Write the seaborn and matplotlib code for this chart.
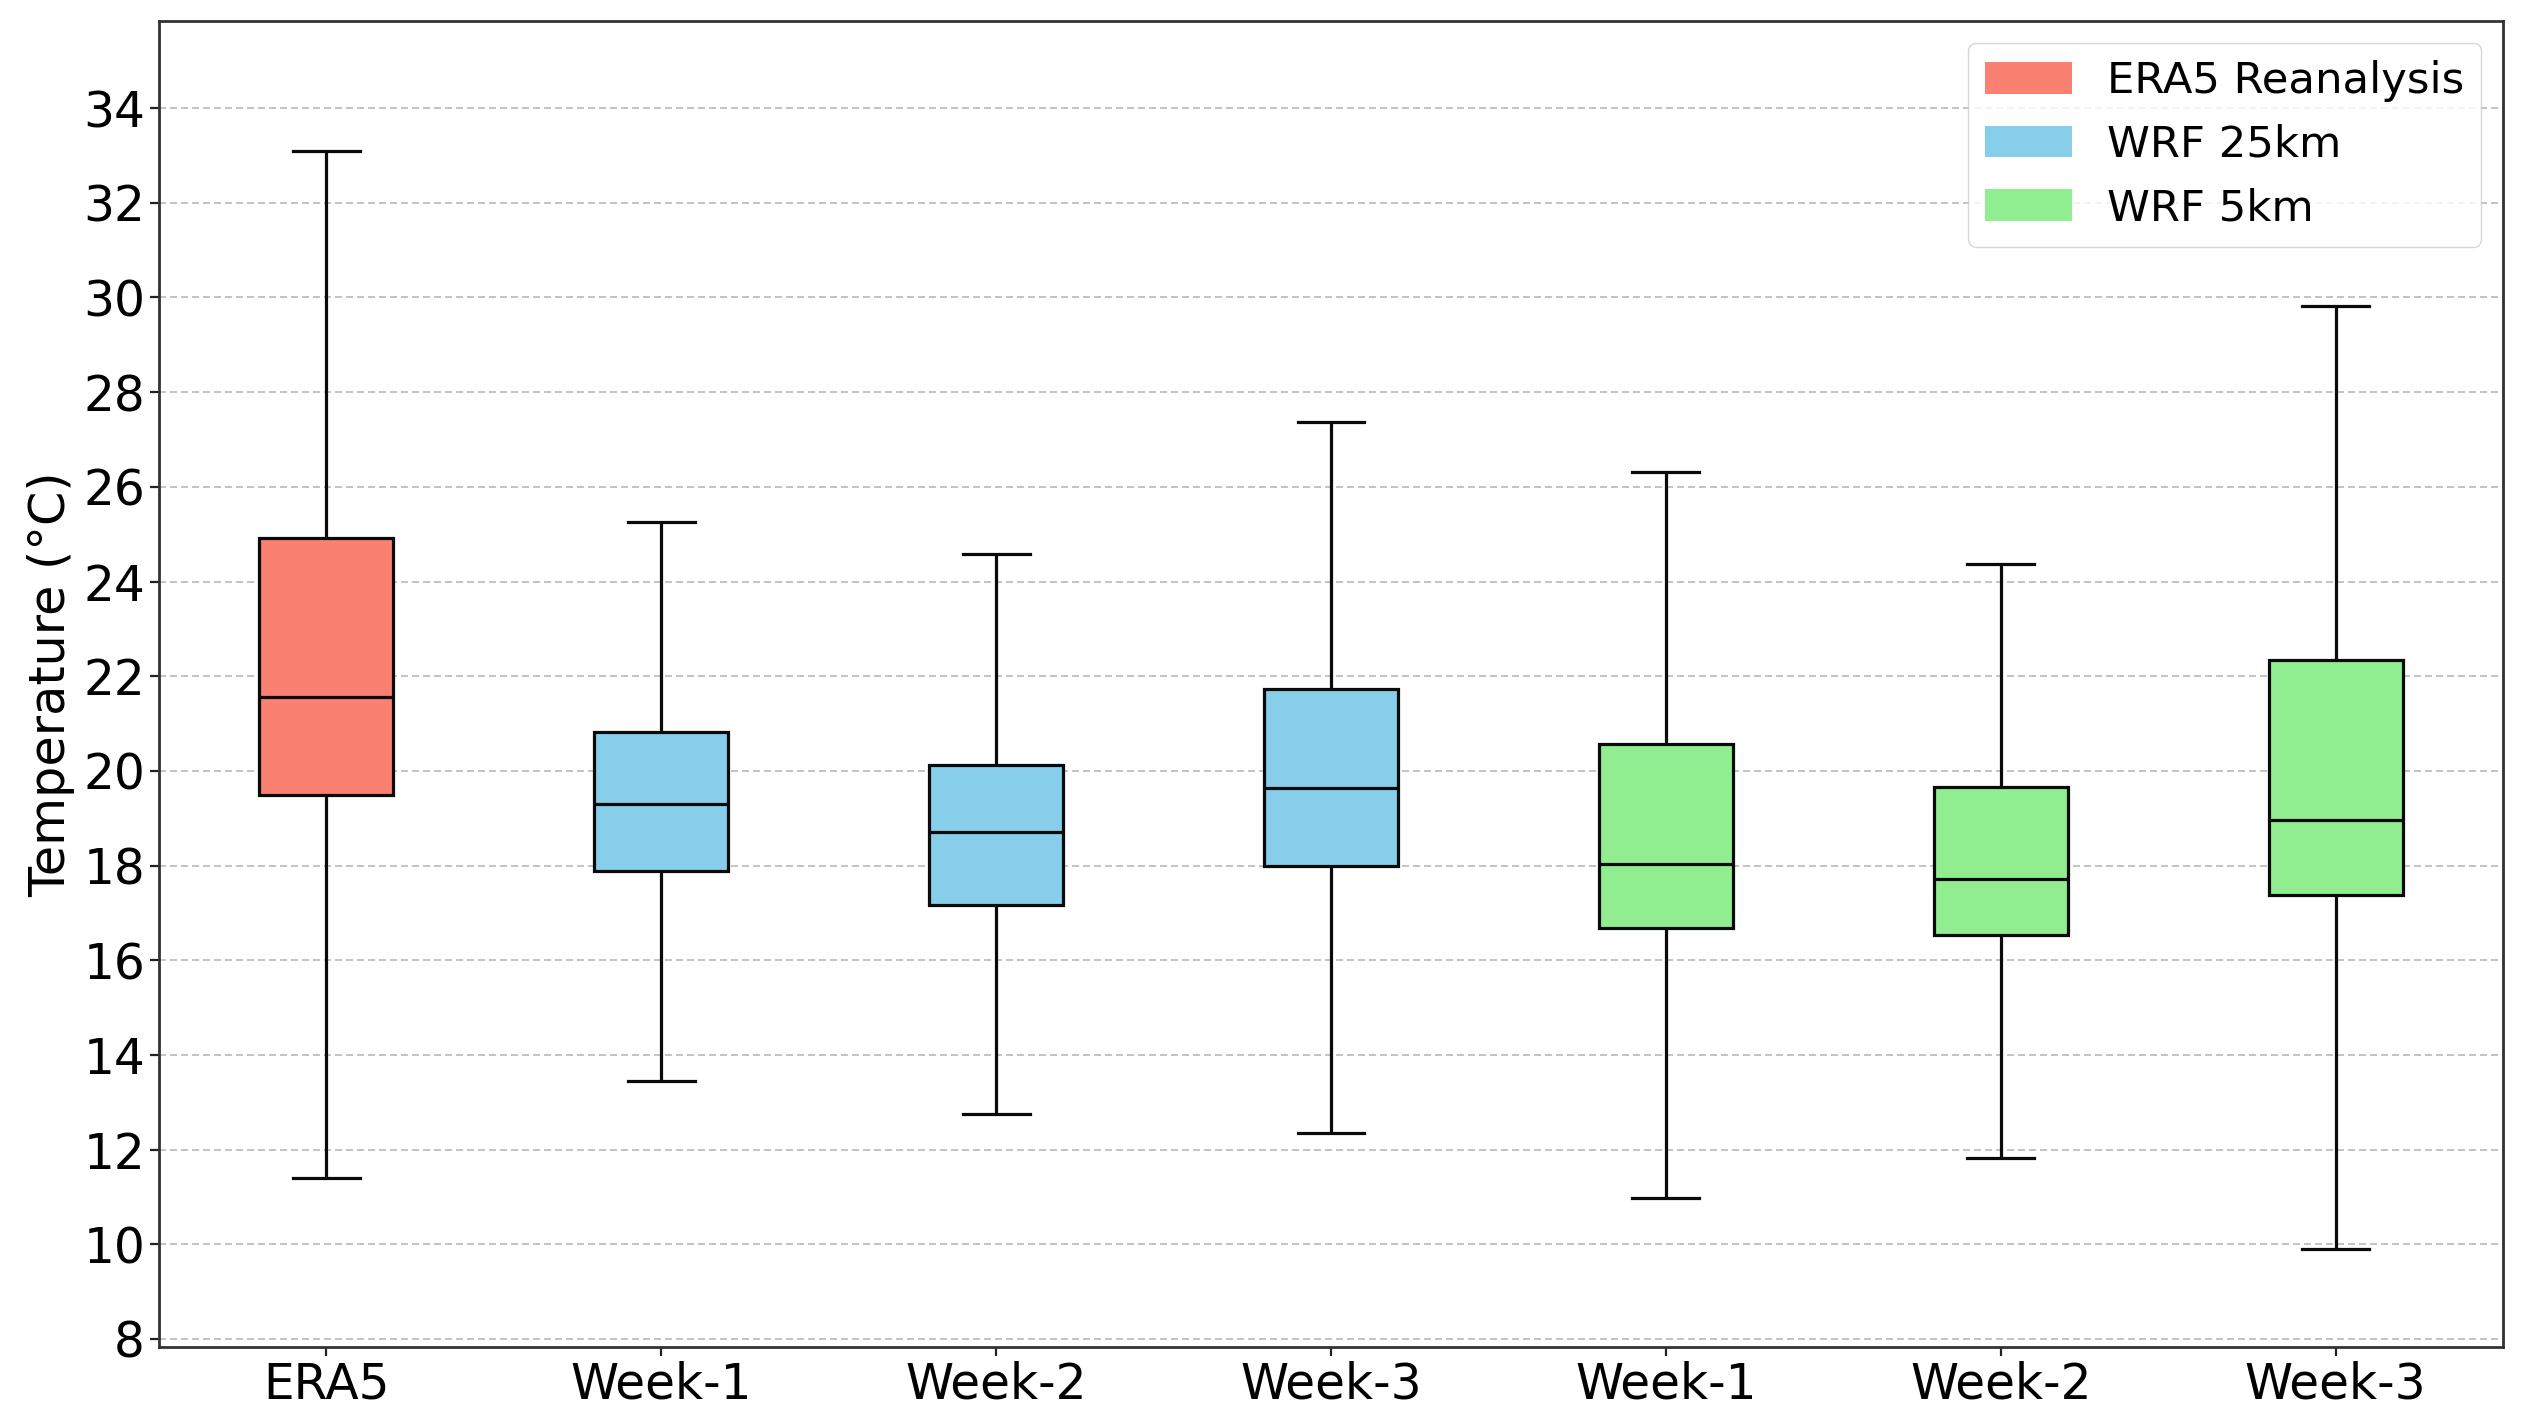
import numpy as np
import pandas as pd
import matplotlib
matplotlib.use("Agg")
import matplotlib.pyplot as plt
from matplotlib.patches import Patch
import seaborn as sns

# ---- data (five-number summaries) ----
categories = ["ERA5", "WRF25_W1", "WRF25_W2", "WRF25_W3", "WRF5_W1", "WRF5_W2", "WRF5_W3"]
tick_labels = ["ERA5", "Week-1", "Week-2", "Week-3", "Week-1", "Week-2", "Week-3"]
sources = ["ERA5 Reanalysis", "WRF 25km", "WRF 25km", "WRF 25km", "WRF 5km", "WRF 5km", "WRF 5km"]
whisker_low = [11.41, 13.45, 12.75, 12.34, 10.98, 11.83, 9.91]
q1 = [19.50, 17.88, 17.17, 17.99, 16.69, 16.54, 17.37]
median = [21.57, 19.29, 18.70, 19.63, 18.03, 17.72, 18.97]
q3 = [24.92, 20.82, 20.12, 21.72, 20.56, 19.66, 22.35]
whisker_high = [33.10, 25.26, 24.58, 27.36, 26.31, 24.38, 29.81]
legend_labels = ["ERA5 Reanalysis", "WRF 25km", "WRF 5km"]
colors = ["#FA8072", "#87CEEB", "#90EE90"]
y_ticks = list(range(8, 36, 2))

rows = []
for i, cat in enumerate(categories):
    for v in (whisker_low[i], q1[i], median[i], q3[i], whisker_high[i]):
        rows.append({"category": cat, "source": sources[i], "temp": v})
df = pd.DataFrame(rows)

DPI = 100
fig = plt.figure(figsize=(25.3, 14.26), dpi=DPI)
ax = fig.add_axes([159 / 2530, 1 - 1347 / 1426, (2503 - 159) / 2530, (1347 - 21) / 1426])

palette = dict(zip(legend_labels, colors))
sns.boxplot(data=df, x="category", y="temp", hue="source", order=categories,
            hue_order=legend_labels, palette=palette, dodge=False, width=0.4,
            whis=(0, 100), saturation=1, linecolor="#0a0a0a", linewidth=2.3,
            showfliers=False, legend=False, ax=ax)

ax.set_ylim(7.83, 35.84)
ax.set_xlim(-0.5, len(categories) - 0.5)
ax.set_yticks(y_ticks)
ax.set_xticks(range(len(categories)))
ax.set_xticklabels(tick_labels)
ax.tick_params(axis="both", labelsize=35, length=6.5, width=1.6, colors="#222222", labelcolor="black")
ax.set_xlabel("")
ax.set_ylabel("Temperature (°C)", fontsize=35.5, labelpad=6)
ax.yaxis.grid(True, linestyle=(0, (4.6, 2.6)), linewidth=1.1, color="#9a9a9a", alpha=0.75)
ax.xaxis.grid(False)
ax.set_axisbelow(True)
for s in ax.spines.values():
    s.set_linewidth(2.0)
    s.set_color("#333333")

handles = [Patch(facecolor=c, edgecolor="none", label=l) for c, l in zip(colors, legend_labels)]
ax.legend(handles=handles, loc="upper right", fontsize=31.2, frameon=True,
          borderaxespad=0.5, handlelength=2.0, handleheight=0.75)

fig.savefig("out.png", dpi=DPI)
